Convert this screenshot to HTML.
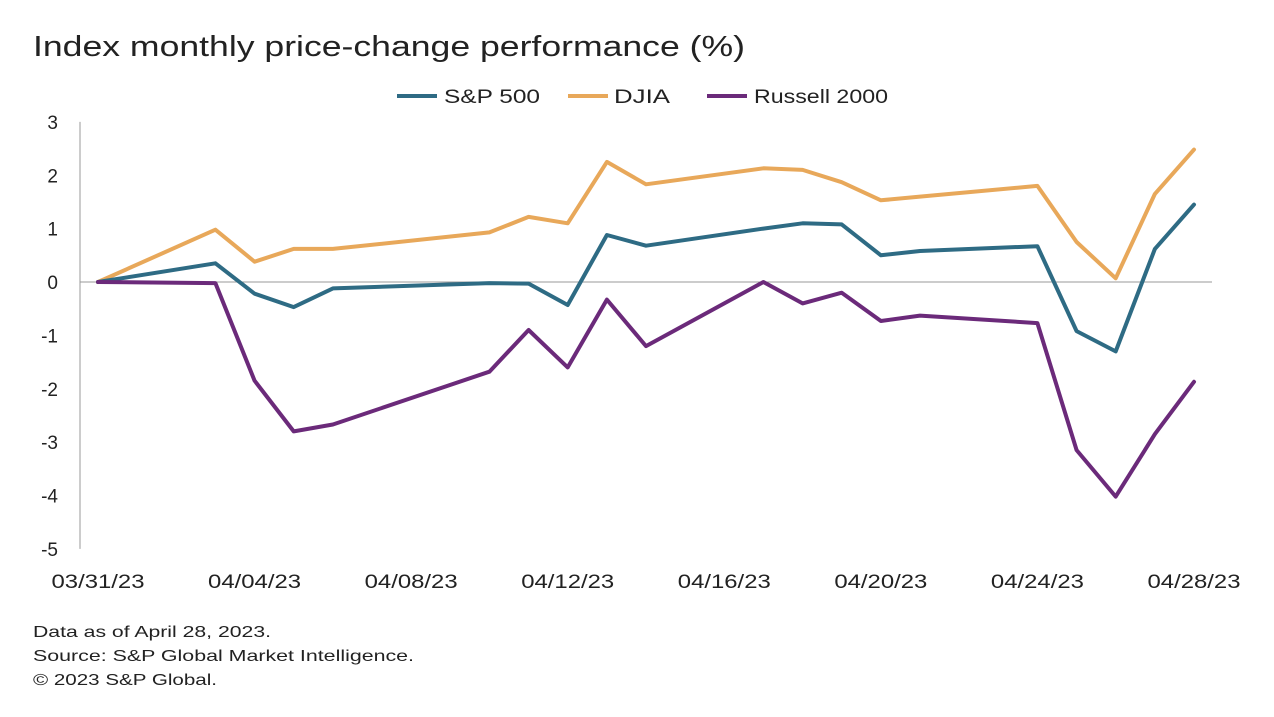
<!DOCTYPE html>
<html><head><meta charset="utf-8">
<style>
body{margin:0;background:#fff;width:1274px;height:712px;overflow:hidden;font-family:"Liberation Sans",sans-serif;}
svg text{font-family:"Liberation Sans",sans-serif;}
</style></head>
<body>
<svg id="chart" width="1274" height="712">
<text x="33" y="56" font-size="29" fill="#222" textLength="712" lengthAdjust="spacingAndGlyphs">Index monthly price-change performance (%)</text>
<g>
<g><line x1="397" y1="96" x2="437" y2="96" stroke="#2e6b84" stroke-width="4"/><text x="444" y="103" font-size="19" fill="#222" textLength="96" lengthAdjust="spacingAndGlyphs">S&amp;P 500</text></g>
<g><line x1="568" y1="96" x2="608" y2="96" stroke="#e8a85a" stroke-width="4"/><text x="614" y="103" font-size="19" fill="#222" textLength="56" lengthAdjust="spacingAndGlyphs">DJIA</text></g>
<g><line x1="707" y1="96" x2="747" y2="96" stroke="#6b2a7a" stroke-width="4"/><text x="754" y="103" font-size="19" fill="#222" textLength="134" lengthAdjust="spacingAndGlyphs">Russell 2000</text></g>
</g>
<g id="axes"></g>
<g id="series"></g>
<text x="33" y="637" font-size="16" fill="#222" textLength="238" lengthAdjust="spacingAndGlyphs">Data as of April 28, 2023.</text>
<text x="33" y="661" font-size="16" fill="#222" textLength="381" lengthAdjust="spacingAndGlyphs">Source: S&amp;P Global Market Intelligence.</text>
<text x="33" y="685" font-size="16" fill="#222" textLength="184" lengthAdjust="spacingAndGlyphs">© 2023 S&amp;P Global.</text>
</svg>
<script>
const dates = ["03/31","04/03","04/04","04/05","04/06","04/10","04/11","04/12","04/13","04/14","04/17","04/18","04/19","04/20","04/21","04/24","04/25","04/26","04/27","04/28"];
const sp500 = [0,0.35,-0.22,-0.47,-0.12,-0.02,-0.03,-0.43,0.88,0.68,1.0,1.1,1.08,0.5,0.58,0.67,-0.92,-1.3,0.62,1.45];
const djia = [0,0.98,0.38,0.62,0.62,0.93,1.22,1.1,2.25,1.83,2.13,2.1,1.87,1.53,1.6,1.8,0.75,0.07,1.65,2.48];
const russell = [0,-0.02,-1.85,-2.8,-2.67,-1.68,-0.9,-1.6,-0.33,-1.2,0.0,-0.4,-0.2,-0.73,-0.63,-0.77,-3.15,-4.02,-2.85,-1.87];
const yTicks = [3,2,1,0,-1,-2,-3,-4,-5];
const xTickLabels = ["03/31/23","04/04/23","04/08/23","04/12/23","04/16/23","04/20/23","04/24/23","04/28/23"];
const xTickDays = [0,4,8,12,16,20,24,28];

const NS="http://www.w3.org/2000/svg";
function dayIndex(d){const [m,dd]=d.split("/").map(Number);return m===3?dd-31:dd;}
function xs(day){return 98+day*(1194-98)/28;}
function ys(v){return 282-v*(549-122)/8;}
const axes=document.getElementById("axes"), series=document.getElementById("series");
function mk(tag,attrs,parent){const e=document.createElementNS(NS,tag);for(const k in attrs)e.setAttribute(k,attrs[k]);parent.appendChild(e);return e;}

const yAxis=mk("line",{x1:80,y1:ys(3),x2:80,y2:ys(-5),stroke:"#999","stroke-width":1},axes);


const zero=mk("line",{x1:80,y1:ys(0),x2:1212,y2:ys(0),stroke:"#999","stroke-width":1},axes);


yTicks.forEach(v=>{
  const t=mk("text",{x:58,y:ys(v)+7,"font-size":19,fill:"#222","text-anchor":"end"},axes);
  t.textContent=String(v);
  
  
});
xTickLabels.forEach((l,i)=>{
  const t=mk("text",{x:xs(xTickDays[i]),y:588,"font-size":19,fill:"#222","text-anchor":"middle",textLength:93,lengthAdjust:"spacingAndGlyphs"},axes);
  t.textContent=l;
  
  
});
function draw(vals,color,name){
  const pts=vals.map((v,i)=>xs(dayIndex(dates[i])).toFixed(1)+","+ys(v).toFixed(1)).join(" ");
  const p=mk("polyline",{points:pts,fill:"none",stroke:color,"stroke-width":4,"stroke-linejoin":"round","stroke-linecap":"round"},series);
  
  
}
draw(djia,"#e8a85a","djia-line");
draw(sp500,"#2e6b84","sp500-line");
draw(russell,"#6b2a7a","russell2000-line");
</script>
</body></html>
